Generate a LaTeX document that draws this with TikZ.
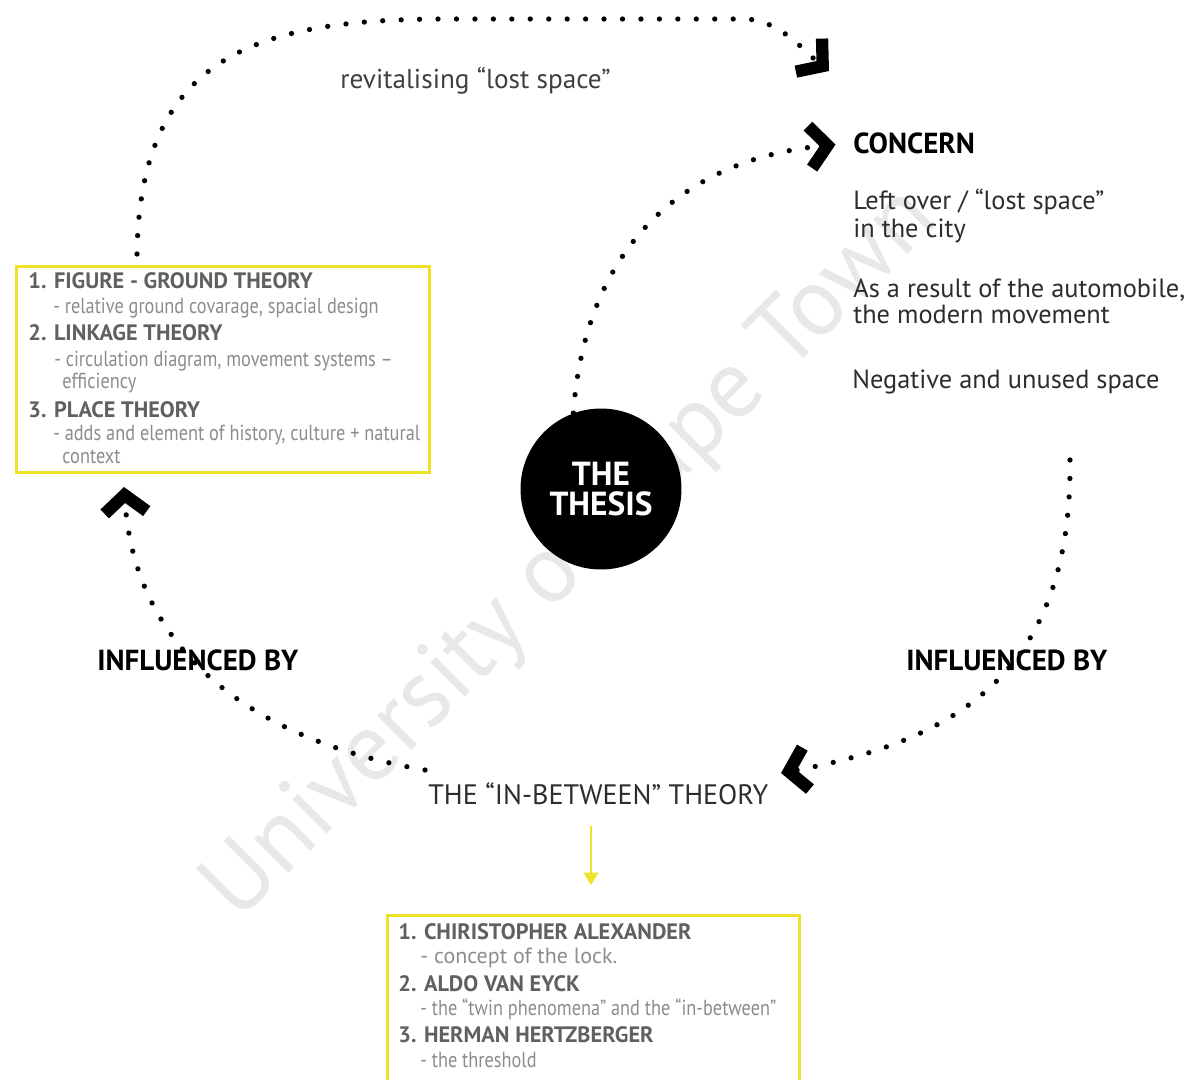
\documentclass[tikz,border=0pt]{standalone}
\usepackage{fontspec}
\setmainfont{PT Sans}
\newfontfamily\narrowfont[FakeStretch=0.84]{PT Sans}
\usetikzlibrary{arrows.meta}
\definecolor{boxyellow}{RGB}{238,226,38}
\definecolor{headgray}{RGB}{96,96,96}
\definecolor{subgray}{RGB}{140,140,140}
\definecolor{bodygray}{RGB}{45,45,45}
\tikzset{
  dotline/.style={draw=black, line width=3pt, line cap=round, dash pattern=on 0pt off 10.5pt},
  chevron/.style={-{Straight Barb[length=10pt,width=24pt,line width=7pt]}},
  yellowarrow/.style={draw=boxyellow, line width=1.6pt, -{Triangle[length=7pt,width=8pt]}},
  theorybox/.style={draw=boxyellow, line width=1.7pt, anchor=north west, inner sep=0pt},
  txt/.style={anchor=base west, inner sep=0pt},
  headtxt/.style={txt, font=\bfseries\fontsize{16.5pt}{19pt}\selectfont, text=black},
  bodytxt/.style={txt, font=\fontsize{15pt}{18pt}\selectfont, text=bodygray},
  boxhead/.style={txt, font=\bfseries\fontsize{12.7pt}{15pt}\selectfont, text=headgray},
  boxsub/.style={txt, font=\narrowfont\fontsize{12.4pt}{14pt}\selectfont, text=subgray},
  thesisdot/.style={circle, fill=black, minimum size=3.22cm, inner sep=0pt, text=white,
    align=center, font=\bfseries\fontsize{19pt}{17.6pt}\selectfont},
  watermark/.style={text=black!9, font=\fontsize{55pt}{60pt}\selectfont}
}

\begin{document}
\begin{tikzpicture}[x=0.02cm, y=-0.02cm]
    \useasboundingbox (0,0) rectangle (1186,1079);
    % watermark behind everything
    \node[watermark, rotate=45] (wmark) at (572,555) {University of Cape Town};

    % the thesis in the middle
    \node[thesisdot] (thesis) at (601,489) {THE\\THESIS};

    % concern on the right
    \node[headtxt] (concern) at (853,153) {CONCERN};
    \node[bodytxt] (leftover) at (853,209) {Left over / “lost space”};
    \node[bodytxt] (city) at (853,237) {in the city};
    \node[bodytxt] (automobile) at (853,297) {As a result of the automobile,};
    \node[bodytxt] (modern) at (853,323) {the modern movement};
    \node[bodytxt] (negative) at (852,388) {Negative and unused space};

    % labels on the loop
    \node[bodytxt, text=black!75, font=\fontsize{15.5pt}{18pt}\selectfont] (revital) at (340,88) {revitalising “lost space”};
    \node[headtxt] (influleft) at (97,670) {INFLUENCED BY};
    \node[headtxt] (influright) at (906,670) {INFLUENCED BY};
    \node[bodytxt, font=\fontsize{16pt}{19pt}\selectfont] (inbetween) at (428,804) {THE “IN-BETWEEN” THEORY};

    % the urban design theories
    \node[theorybox, minimum width=8.26cm, minimum height=4.12cm] (leftbox) at (15,265) {};
    \foreach \y/\t [count=\i] in {288/{1. FIGURE - GROUND THEORY}, 340/{2. LINKAGE THEORY}, 417/{3. PLACE THEORY}}
        \node[boxhead] (lefthead\i) at (28,\y) {\t};
    \foreach \x/\y/\t [count=\i] in {53/313/{- relative ground covarage, spacial design},
        54/366/{- circulation diagram, movement systems –}, 62/388/{efficiency},
        53/440/{- adds and element of history, culture + natural}, 62/463/{context}}
        \node[boxsub] (leftsub\i) at (\x,\y) {\t};

    % the in-between thinkers
    \node[theorybox, minimum width=8.24cm, minimum height=3.6cm] (bottombox) at (386,914) {};
    \foreach \y/\t [count=\i] in {939/{1. CHIRISTOPHER ALEXANDER}, 991/{2. ALDO VAN EYCK}, 1042/{3. HERMAN HERTZBERGER}}
        \node[boxhead] (bottomhead\i) at (398,\y) {\t};
    \node[boxsub, font=\fontsize{12.5pt}{14pt}\selectfont] (bottomsub1) at (420,963) {- concept of the lock.};
    \foreach \y/\t [count=\i from 2] in {1015/{- the “twin phenomena” and the “in-between”}, 1067/{- the threshold}}
        \node[boxsub] (bottomsub\i) at (420,\y) {\t};

    % free ends of the dotted loop
    \coordinate (topstart) at (137,254);
    \coordinate (topend) at (829,71);
    \coordinate (rightstart) at (1070,460);
    \coordinate (bottomtip) at (781,773);
    \coordinate (leftstart) at (425,770);
    \coordinate (lefttip) at (124,487);
    \coordinate (ytop) at (591,826);
    \coordinate (ybot) at (591,885);

    % dotted loop
    \draw[dotline, chevron] (topstart) .. controls (140,60) and (250,20) .. (440,19) -- (745,19) .. controls (780,20) and (805,52) .. (topend);
    \draw[dotline, chevron, shorten >=10pt] (thesis.110) .. controls (585,250) and (680,160) .. (concern.west);
    \draw[dotline, chevron] (rightstart) .. controls (1072,670) and (960,740) .. (bottomtip);
    \draw[dotline, chevron] (leftstart) .. controls (250,740) and (135,650) .. (lefttip);
    \draw[yellowarrow] (ytop) -- (ybot);
\end{tikzpicture}
\end{document}
